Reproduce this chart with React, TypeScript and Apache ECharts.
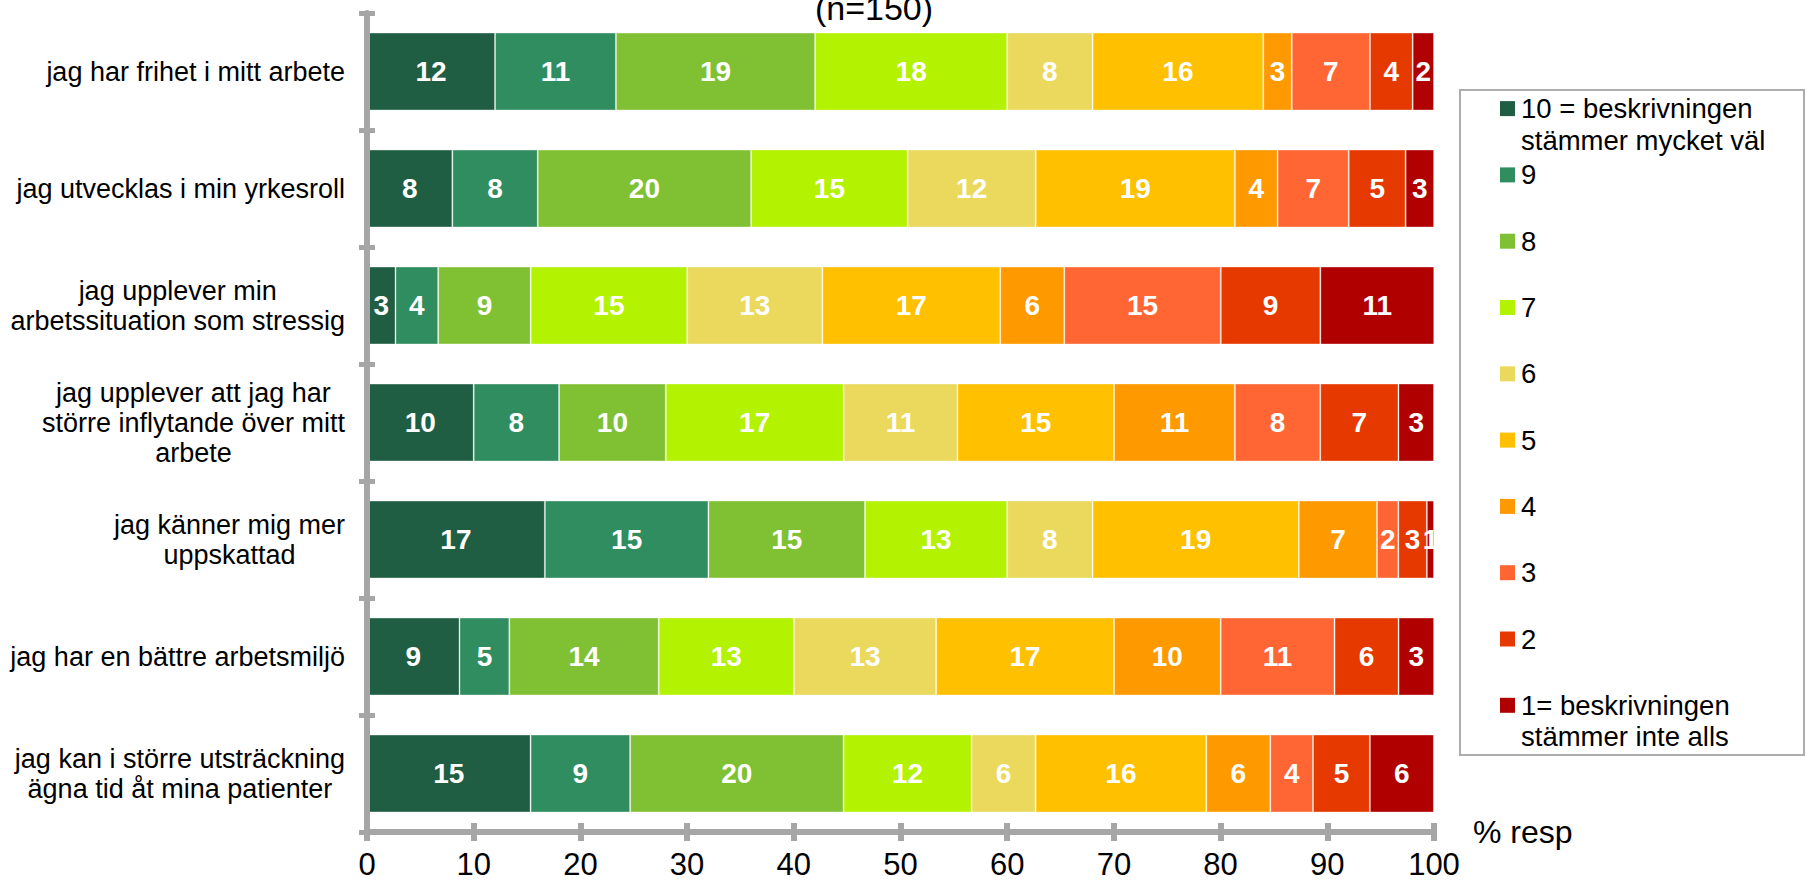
import React, { useEffect, useRef } from 'react';
import * as echarts from 'echarts';

const FONT = '"Liberation Sans", Arial, Helvetica, sans-serif';

const chartTitle = '(n=150)';
const axisName = '% resp';

const categories = [
  'jag har frihet i mitt arbete',
  'jag utvecklas i min yrkesroll',
  'jag upplever min\narbetssituation som stressig',
  'jag upplever att jag har\nstörre inflytande över mitt\narbete',
  'jag känner mig mer\nuppskattad',
  'jag har en bättre arbetsmiljö',
  'jag kan i större utsträckning\nägna tid åt mina patienter',
];

const levelNames = [
  '10 = beskrivningen\nstämmer mycket väl',
  '9',
  '8',
  '7',
  '6',
  '5',
  '4',
  '3',
  '2',
  '1= beskrivningen\nstämmer inte alls',
];

const levelColors = [
  '#1F5E43',
  '#2F8D5F',
  '#80C133',
  '#B3F200',
  '#EAD95C',
  '#FFC000',
  '#FF9900',
  '#FF6633',
  '#E63900',
  '#B00000',
];

// % of respondents per answer level, one value per statement (top to bottom)
const level10 = [12.0, 8.0, 2.67, 10.0, 16.67, 8.67, 15.33];
const level9 = [11.33, 8.0, 4.0, 8.0, 15.33, 4.67, 9.33];
const level8 = [18.67, 20.0, 8.67, 10.0, 14.67, 14.0, 20.0];
const level7 = [18.0, 14.67, 14.67, 16.67, 13.33, 12.67, 12.0];
const level6 = [8.0, 12.0, 12.67, 10.67, 8.0, 13.33, 6.0];
const level5 = [16.0, 18.67, 16.67, 14.67, 19.33, 16.67, 16.0];
const level4 = [2.67, 4.0, 6.0, 11.33, 7.33, 10.0, 6.0];
const level3 = [7.33, 6.67, 14.67, 8.0, 2.0, 10.67, 4.0];
const level2 = [4.0, 5.33, 9.33, 7.33, 2.67, 6.0, 5.33];
const level1 = [2.0, 2.67, 10.67, 3.33, 0.67, 3.33, 6.0];

const levelValues = [level10, level9, level8, level7, level6, level5, level4, level3, level2, level1];

const xMin = 0;
const xMax = 100;
const xInterval = 10;

const AXIS_COLOR = '#A6A6A6';

export default function App() {
  const ref = useRef<HTMLDivElement>(null);

  useEffect(() => {
    if (!ref.current) return;
    const chart = echarts.init(ref.current, null, { renderer: 'svg' });

    const series = levelNames.map((name, i) => ({
      name,
      type: 'bar',
      stack: 'total',
      xAxisIndex: 0,
      yAxisIndex: 0,
      barCategoryGap: '33.5%',
      data: levelValues[i],
      itemStyle: {
        color: levelColors[i],
        borderColor: 'rgba(255,255,255,0.3)',
        borderWidth: 1,
      },
      label: {
        show: true,
        position: 'inside',
        color: '#fff',
        fontFamily: FONT,
        fontWeight: 'bold',
        fontSize: 28,
        formatter: (p: any) => String(Math.round(p.value)),
      },
      emphasis: { disabled: true },
    }));

    const legendTop = 108.6;
    const legendStep = 66.3;
    const legendLine = 31.5;
    const legendElements: any[] = [
      {
        type: 'rect',
        shape: { x: 1460, y: 90, width: 344, height: 665 },
        style: { fill: '#fff', stroke: '#ADADAD', lineWidth: 2 },
        z: 10,
      },
    ];
    levelNames.forEach((name, i) => {
      const yc = legendTop + i * legendStep;
      legendElements.push({
        type: 'rect',
        shape: { x: 1500, y: yc - 7.5, width: 15, height: 15 },
        style: { fill: levelColors[i] },
        z: 11,
      });
      legendElements.push({
        type: 'text',
        x: 1521,
        y: yc - legendLine / 2,
        style: {
          text: name,
          fill: '#000',
          fontSize: 27.5,
          fontFamily: FONT,
          lineHeight: legendLine,
          align: 'left',
          verticalAlign: 'top',
        },
        z: 11,
      });
    });

    const option: any = {
      animation: false,
      backgroundColor: '#fff',
      title: {
        text: chartTitle,
        left: 874,
        top: -9,
        padding: 0,
        textAlign: 'center',
        textStyle: { fontSize: 34, fontWeight: 'normal', color: '#000', fontFamily: FONT },
      },
      grid: {
        left: 367,
        right: 372,
        top: 13,
        bottom: 51,
        containLabel: false,
        outerBoundsMode: 'none',
      },
      xAxis: [
        {
          type: 'value',
          position: 'bottom',
          min: xMin,
          max: xMax,
          interval: xInterval,
          z: 3,
          name: axisName,
          nameLocation: 'end',
          nameGap: 39,
          nameTextStyle: { fontSize: 32, color: '#000', fontFamily: FONT },
          axisLine: { show: true, lineStyle: { color: AXIS_COLOR, width: 6 } },
          axisTick: { show: true, length: 9, lineStyle: { color: AXIS_COLOR, width: 6 } },
          axisLabel: { fontSize: 31, lineHeight: 26, color: '#000', fontFamily: FONT, margin: 19 },
          splitLine: { show: false },
        },
        {
          type: 'value',
          position: 'bottom',
          min: xMin,
          max: xMax,
          interval: xInterval,
          z: 3,
          axisLine: { show: false },
          axisTick: { show: true, inside: true, length: 9, lineStyle: { color: AXIS_COLOR, width: 6 } },
          axisLabel: { show: false },
          splitLine: { show: false },
        },
      ],
      yAxis: [
        {
          type: 'category',
          position: 'left',
          inverse: true,
          data: categories,
          z: 3,
          axisLine: { show: true, lineStyle: { color: AXIS_COLOR, width: 6 } },
          axisTick: { show: true, interval: 0, length: 8, lineStyle: { color: AXIS_COLOR, width: 5 } },
          axisLabel: {
            interval: 0,
            margin: 22,
            fontSize: 27,
            lineHeight: 30,
            color: '#000',
            fontFamily: FONT,
            formatter: (v: string) => v.split('\n').map((l) => `{c|${l}}`).join('\n'),
            rich: {
              c: { align: 'center', fontSize: 27, lineHeight: 30, color: '#000', fontFamily: FONT },
            },
          },
          splitLine: { show: false },
        },
        {
          type: 'category',
          position: 'left',
          inverse: true,
          data: categories,
          z: 3,
          axisLine: { show: false },
          axisTick: { show: true, inside: true, interval: 0, length: 8, lineStyle: { color: AXIS_COLOR, width: 5 } },
          axisLabel: { show: false },
          splitLine: { show: false },
        },
      ],
      graphic: { elements: legendElements },
      series,
    };

    chart.setOption(option);
    return () => chart.dispose();
  }, []);

  return (
    <div
      ref={ref}
      style={{ position: 'fixed', left: 0, top: 0, width: 1806, height: 883, background: '#fff' }}
    />
  );
}
